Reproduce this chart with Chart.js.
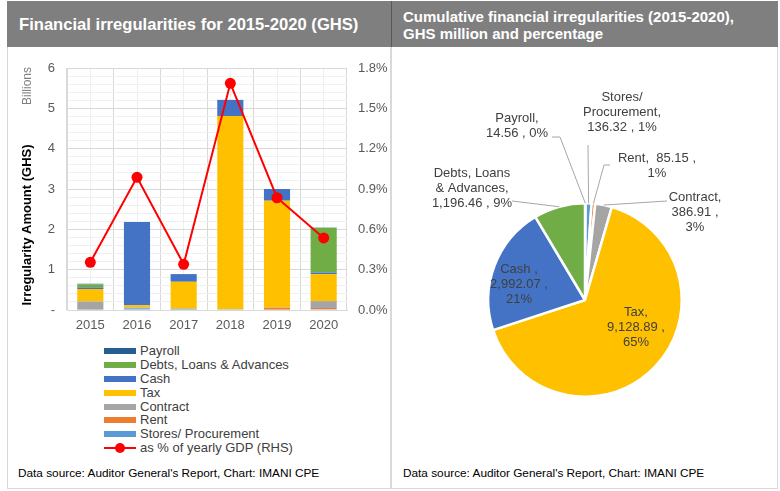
<!DOCTYPE html>
<html lang="en">
<head>
<meta charset="UTF-8">
<title>Financial irregularities</title>
<script src="https://cdn.jsdelivr.net/npm/chart.js"></script>
<style>
    body { margin: 0; width: 780px; height: 491px; position: relative; background: #fff; font-family: "Liberation Sans", Arial, sans-serif; overflow: hidden; }
    .panel { position: absolute; border: 1px solid #d9d9d9; box-sizing: border-box; }
    .head { position: absolute; background: #7f7f7f; color: #fff; font-weight: bold; box-sizing: border-box; }
    .note { position: absolute; font-size: 11.8px; color: #000; }
    canvas { position: absolute; }
    #legend { position: absolute; left: 104px; top: 344px; font-size: 13px; color: #404040; }
    #legend .row { height: 13.9px; line-height: 14px; display: flex; align-items: center; white-space: nowrap; }
    #legend .sw { width: 32px; height: 6px; margin-right: 4px; position: relative; }
</style>
</head>
<body>
<div class="panel" style="left:7px; top:1px; width:384px; height:488px;"></div>
<div class="panel" style="left:391px; top:1px; width:387px; height:488px;"></div>
<div class="head" style="left:7px; top:1px; width:384px; height:46px; font-size:16.6px; padding:14px 0 0 12px;">Financial irregularities for 2015-2020 (GHS)</div>
<div class="head" style="left:391px; top:1px; width:387px; height:46px; font-size:15px; line-height:17px; padding:7px 0 0 11px; border-left:1px solid #595959;">Cumulative financial irregularities (2015-2020),<br>GHS million and percentage</div>

<canvas id="barChart" style="left:7px; top:48px;" width="383" height="292"></canvas>
<div id="legend"></div>
<canvas id="pieChart" style="left:392px; top:48px;" width="386" height="410"></canvas>

<div class="note" style="left:18px; top:466px;">Data source: Auditor General's Report, Chart: IMANI CPE</div>
<div class="note" style="left:403px; top:466px;">Data source: Auditor General's Report, Chart: IMANI CPE</div>

<script>
    // categories and values (bars in GHS billions, line in % of GDP)
    const years = ['2015', '2016', '2017', '2018', '2019', '2020'];
    const stores = [0.01, 0.04, 0.03, 0.02, 0.01, 0.02];
    const rent = [0, 0, 0, 0, 0.05, 0.03];
    const contract = [0.20, 0.02, 0, 0, 0, 0.17];
    const tax = [0.31, 0.06, 0.67, 4.79, 2.65, 0.67];
    const cash = [0.04, 2.06, 0.19, 0.40, 0.29, 0.04];
    const debts = [0.08, 0, 0, 0, 0, 1.11];
    const payroll = [0.01, 0, 0, 0, 0, 0.005];
    const gdpShare = [0.355, 0.987, 0.34, 1.686, 0.835, 0.536];

    const amountTicks = ['-', '1', '2', '3', '4', '5', '6'];
    const gdpTicks = ['0.0%', '0.3%', '0.6%', '0.9%', '1.2%', '1.5%', '1.8%'];

    // cumulative totals, GHS million (pie, clockwise from top)
    const pieNames = ['Payroll', 'Stores/ Procurement', 'Rent', 'Contract', 'Tax', 'Cash', 'Debts, Loans & Advances'];
    const pieValues = [14.56, 136.32, 85.15, 386.91, 9128.89, 2992.07, 1196.46];

    const colors = {
        'Payroll': '#255e91',
        'Debts, Loans & Advances': '#70ad47',
        'Cash': '#4472c4',
        'Tax': '#ffc000',
        'Contract': '#a5a5a5',
        'Rent': '#ed7d31',
        'Stores/ Procurement': '#5b9bd5'
    };

    Chart.defaults.font.family = '"Liberation Sans", Arial, sans-serif';
    Chart.defaults.color = '#595959';

    // ---- Bar + line chart ----
    const stackSeries = [
        ['Stores/ Procurement', stores],
        ['Rent', rent],
        ['Contract', contract],
        ['Tax', tax],
        ['Cash', cash],
        ['Debts, Loans & Advances', debts],
        ['Payroll', payroll]
    ];

    const barSets = stackSeries.map(([name, vals]) => ({
        type: 'bar',
        label: name,
        data: vals,
        backgroundColor: colors[name],
        stack: 's',
        yAxisID: 'y',
        barPercentage: 0.56,
        categoryPercentage: 1,
        order: 2
    }));

    const lineSet = {
        type: 'line',
        label: 'as % of yearly GDP (RHS)',
        data: gdpShare,
        yAxisID: 'y1',
        borderColor: '#ff0000',
        backgroundColor: '#ff0000',
        borderWidth: 2,
        pointRadius: 5.5,
        pointBorderWidth: 0,
        order: 1
    };

    const axisTitles = {
        id: 'axisTitles',
        afterDraw(chart) {
            const ctx = chart.ctx;
            ctx.save();
            ctx.textAlign = 'center';
            ctx.textBaseline = 'middle';
            ctx.translate(20, 177);
            ctx.rotate(-Math.PI / 2);
            ctx.fillStyle = '#000';
            ctx.font = 'bold 13px "Liberation Sans", Arial, sans-serif';
            ctx.fillText('Irregularity Amount (GHS)', 0, 0);
            ctx.restore();
            ctx.save();
            ctx.textAlign = 'center';
            ctx.textBaseline = 'middle';
            ctx.translate(21, 38);
            ctx.rotate(-Math.PI / 2);
            ctx.fillStyle = '#7f7f7f';
            ctx.font = '12px "Liberation Sans", Arial, sans-serif';
            ctx.fillText('Billions', 0, 0);
            ctx.restore();
        }
    };

    new Chart(document.getElementById('barChart'), {
        data: { labels: years, datasets: [...barSets, lineSet] },
        options: {
            responsive: false,
            animation: false,
            layout: { padding: { top: 20, left: 0, right: 0, bottom: 0 } },
            plugins: { legend: { display: false }, tooltip: { enabled: false } },
            scales: {
                x: {
                    stacked: true,
                    offset: true,
                    grid: { offset: true, color: '#d9d9d9', drawTicks: false },
                    border: { color: '#d9d9d9' },
                    ticks: { font: { size: 13 }, padding: 8, color: '#595959' },
                    afterFit(s) { s.height = 30; }
                },
                xc: {
                    type: 'category',
                    position: 'bottom',
                    offset: true,
                    grid: { offset: false, color: '#efefef', drawTicks: false },
                    border: { display: false },
                    ticks: { display: false },
                    afterFit(s) { s.height = 0; }
                },
                y: {
                    stacked: true,
                    min: 0,
                    max: 6,
                    position: 'left',
                    grid: {
                        drawTicks: false,
                        color: c => Math.abs(c.tick.value - Math.round(c.tick.value)) < 1e-6 ? '#d9d9d9' : '#f0f0f0'
                    },
                    border: { color: '#d9d9d9' },
                    ticks: {
                        stepSize: 0.2,
                        maxTicksLimit: 100,
                        autoSkip: false,
                        padding: 12,
                        font: { size: 13 },
                        color: '#595959',
                        callback: v => {
                            const i = Math.round(v);
                            return Math.abs(v - i) < 1e-6 ? amountTicks[i] : '';
                        }
                    },
                    afterFit(s) { s.width = 60; }
                },
                y1: {
                    min: 0,
                    max: 1.8,
                    position: 'right',
                    grid: { display: false, drawTicks: false },
                    border: { display: false },
                    ticks: {
                        stepSize: 0.3,
                        padding: 11,
                        font: { size: 13 },
                        color: '#595959',
                        callback: (v, i) => gdpTicks[i]
                    },
                    afterFit(s) { s.width = 43; }
                }
            }
        },
        plugins: [axisTitles]
    });

    // legend (Excel order: top of stack first)
    const legendEl = document.getElementById('legend');
    [...stackSeries].reverse().forEach(([name]) => {
        legendEl.insertAdjacentHTML('beforeend',
            `<div class="row"><span class="sw" style="background:${colors[name]}"></span>${name}</div>`);
    });
    legendEl.insertAdjacentHTML('beforeend',
        `<div class="row"><span class="sw" style="height:2px;background:#ff0000;"><span style="position:absolute;left:11px;top:-4px;width:10px;height:10px;border-radius:50%;background:#ff0000;"></span></span>${lineSet.label}</div>`);

    // ---- Pie chart ----
    const total = pieValues.reduce((a, b) => a + b, 0);
    const fmtNum = v => v.toLocaleString('en-US', { minimumFractionDigits: 2, maximumFractionDigits: 2 });

    // label placement (canvas px) and line breaks
    const pieLabelLayout = {
        'Payroll': { x: 125, y: 70, leader: [[160, 89], [168, 89]], lines: (n, v, p) => [n + ',', v + ' , ' + p] },
        'Stores/ Procurement': { x: 230, y: 49, leader: [[196, 97]], lines: (n, v, p) => ['Stores/', 'Procurement,', v + ' , ' + p] },
        'Rent': { x: 265, y: 110, leader: [[218, 117], [212, 117]], lines: (n, v, p) => [n + ',  ' + v + ' ,', p] },
        'Contract': { x: 303, y: 149, leader: [[275, 153]], lines: (n, v, p) => [n + ',', v + ' ,', p] },
        'Tax': { x: 244, y: 264, lines: (n, v, p) => [n + ',', v + ' ,', p] },
        'Cash': { x: 127, y: 221, lines: (n, v, p) => [n + ' ,', v + ' ,', p] },
        'Debts, Loans & Advances': { x: 80, y: 125, leader: [[120, 153]], lines: (n, v, p) => ['Debts, Loans', '& Advances,', v + ' , ' + p] }
    };

    const pieLabels = {
        id: 'pieLabels',
        afterDraw(chart) {
            const ctx = chart.ctx;
            const meta = chart.getDatasetMeta(0);
            ctx.save();
            ctx.font = '13px "Liberation Sans", Arial, sans-serif';
            ctx.textAlign = 'center';
            ctx.textBaseline = 'middle';
            meta.data.forEach((arc, i) => {
                const name = pieNames[i];
                const lay = pieLabelLayout[name];
                const p = arc.getProps(['x', 'y', 'startAngle', 'endAngle', 'outerRadius'], true);
                const mid = (p.startAngle + p.endAngle) / 2;
                if (lay.leader) {
                    ctx.strokeStyle = '#a6a6a6';
                    ctx.lineWidth = 1;
                    ctx.beginPath();
                    lay.leader.forEach(([lx, ly], k) => k ? ctx.lineTo(lx, ly) : ctx.moveTo(lx, ly));
                    ctx.lineTo(p.x + Math.cos(mid) * p.outerRadius, p.y + Math.sin(mid) * p.outerRadius);
                    ctx.stroke();
                }
                const pct = Math.round(pieValues[i] / total * 100) + '%';
                ctx.fillStyle = '#404040';
                lay.lines(name, fmtNum(pieValues[i]), pct).forEach((t, k) => ctx.fillText(t, lay.x, lay.y + k * 15));
            });
            ctx.restore();
        }
    };

    new Chart(document.getElementById('pieChart'), {
        type: 'pie',
        data: {
            labels: pieNames,
            datasets: [{
                data: pieValues,
                backgroundColor: pieNames.map(n => colors[n]),
                borderColor: '#ffffff',
                borderWidth: 2.5
            }]
        },
        options: {
            responsive: false,
            animation: false,
            layout: { padding: { left: 95, right: 95, top: 154, bottom: 60 } },
            plugins: { legend: { display: false }, tooltip: { enabled: false } }
        },
        plugins: [pieLabels]
    });
</script>
</body>
</html>
